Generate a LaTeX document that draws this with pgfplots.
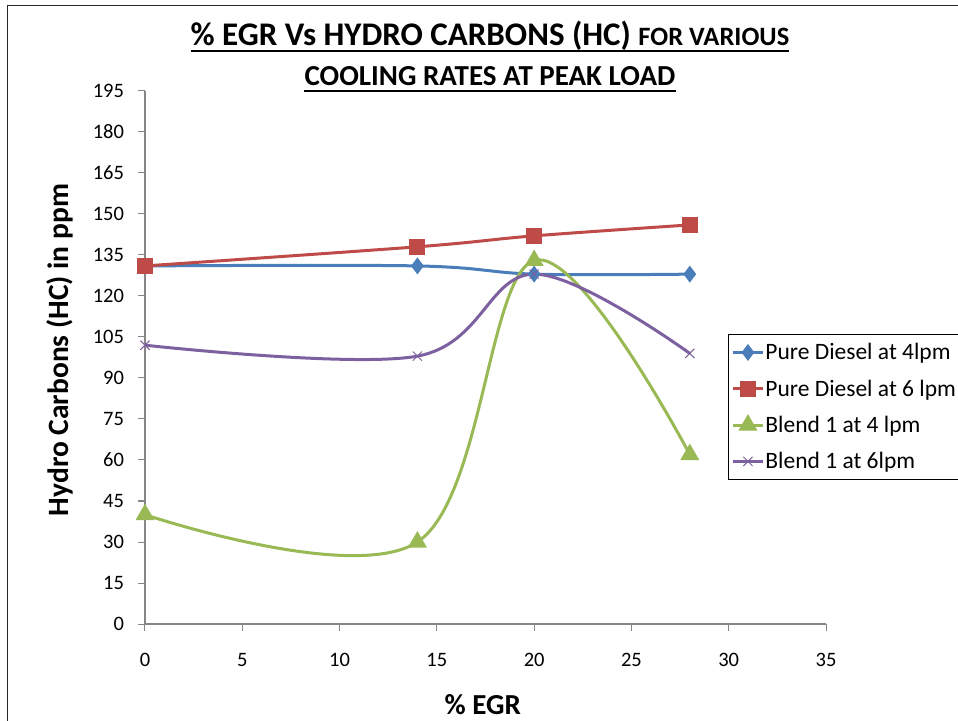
\documentclass[border=0pt]{standalone}
\usepackage{pgfplots}
\pgfplotsset{compat=1.18}
\usepackage{fontspec}
\setmainfont{Carlito}
\definecolor{cBlue}{HTML}{4A7EBB}
\definecolor{cRed}{HTML}{BE4B48}
\definecolor{cGreen}{HTML}{98B954}
\definecolor{cPurple}{HTML}{7D60A0}
\definecolor{cAxis}{HTML}{868686}
\begin{document}
\begin{tikzpicture}[x=1pt,y=1pt]
\path[use as bounding box] (-145,-96) rectangle (813,624);
\begin{axis}[
  at={(0,0)}, anchor=south west, scale only axis,
  width=681pt, height=533pt,
  xmin=0, xmax=35, ymin=0, ymax=195,
  xtick={0,5,...,35}, ytick={0,15,...,195},
  axis x line*=bottom, axis y line*=left,
  axis line style={cAxis, line width=1.3pt, -},
  tick align=outside, major tick length=7pt,
  tick style={cAxis, line width=1pt},
  /pgf/number format/assume math mode=true,
  yticklabel style={font=\fontsize{20.5}{22}\selectfont, anchor=east, xshift=-10.5pt},
  xticklabel style={font=\fontsize{20.5}{22}\selectfont, anchor=center, yshift=-29pt},
  xlabel={\% EGR},
  xlabel style={at={(axis description cs:0.496,0)}, anchor=base, yshift=-90pt, font=\fontsize{29}{32}\selectfont\bfseries},
  ylabel={Hydro Carbons (HC) in ppm},
  ylabel style={at={(axis description cs:-0.1248,0.514)}, anchor=center, font=\fontsize{29.5}{32}\selectfont\bfseries},
  legend style={at={(0.856,0.544)}, anchor=north west, draw=black, line width=1pt,
    font=\fontsize{23.5}{27}\selectfont, row sep=14.5pt, inner xsep=3pt, inner ysep=7pt,
    nodes={inner xsep=1pt}},
  legend cell align=left,
  legend image code/.code={\draw[#1, mark repeat=2, mark phase=2] plot coordinates {(0pt,0pt) (15pt,0pt) (30pt,0pt)};},
  every axis plot/.append style={smooth, tension=0.6, line width=3pt},
]
\addplot[cBlue, mark=diamond*, mark size=6pt, mark options={solid}] coordinates {(0,131) (14,131) (20,128) (28,128)};
\addlegendentry{\makebox[200pt][l]{Pure Diesel at 4lpm}}
\addplot[cRed, mark=square*, mark size=6.5pt, mark options={solid}] coordinates {(0,131) (14,138) (20,142) (28,146)};
\addlegendentry{Pure Diesel at 6 lpm}
\addplot[cGreen, mark=triangle*, mark size=8pt, mark options={solid}] coordinates {(0,40) (14,30) (20,133) (28,62)};
\addlegendentry{Blend 1 at 4 lpm}
\addplot[cPurple, mark=x, mark size=6.5pt, mark options={solid, line width=1pt}] coordinates {(0,102) (14,98) (20,128) (28,99)};
\addlegendentry{Blend 1 at 6lpm}
\end{axis}
\node[anchor=base, inner sep=0] (t1) at (345,578) {\bfseries\fontsize{33}{36}\selectfont \% EGR Vs HYDRO CARBONS (HC) \fontsize{26.5}{28}\selectfont FOR VARIOUS};
\draw[line width=2pt] ([yshift=-5pt]t1.base west) -- ([yshift=-5pt]t1.base east);
\node[anchor=base, inner sep=0] (t2) at (345,538) {\bfseries\fontsize{29}{32}\selectfont COOLING RATES AT PEAK LOAD};
\draw[line width=2pt] ([yshift=-5pt]t2.base west) -- ([yshift=-5pt]t2.base east);
\draw[line width=1pt, black!85] (-137,-110) -- (-137,618) -- (830,618);
\end{tikzpicture}
\end{document}
